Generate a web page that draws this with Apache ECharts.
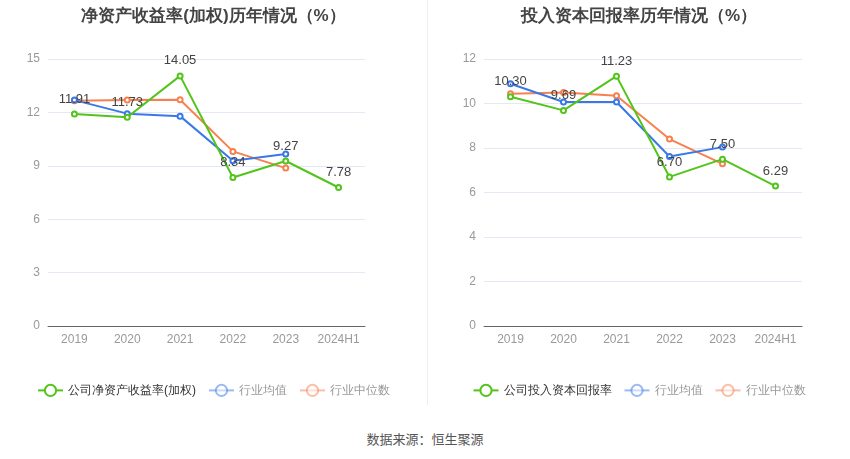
<!DOCTYPE html>
<html>
<head>
<meta charset="utf-8">
<script src="https://cdn.jsdelivr.net/npm/echarts@6/dist/echarts.min.js"></script>
<style>
  html, body { margin: 0; padding: 0; background: #fff; }
  #wrap { position: relative; width: 850px; height: 459px; font-family: "Noto Sans CJK SC", sans-serif; }
  #chartL { position: absolute; left: 0; top: 0; width: 427px; height: 410px; }
  #chartR { position: absolute; left: 428px; top: 0; width: 422px; height: 410px; }
  #divider { position: absolute; left: 427px; top: 0; width: 1px; height: 405px; background: #eeeeee; }
  #source { position: absolute; left: 0; top: 429px; width: 850px; text-align: center; font-size: 13px; color: #555; }
</style>
</head>
<body>
<div id="wrap">
  <div id="chartL"></div>
  <div id="divider"></div>
  <div id="chartR"></div>
  <div id="source">数据来源：恒生聚源</div>
</div>
<script>
var years = ['2019', '2020', '2021', '2022', '2023', '2024H1'];

// 净资产收益率(加权)
var roeCompany = [11.91, 11.73, 14.05, 8.34, 9.27, 7.78];
var roeAvg = [12.69, 11.93, 11.79, 9.28, 9.66];
var roeMedian = [12.66, 12.69, 12.71, 9.81, 8.87];

// 投入资本回报率
var roicCompany = [10.30, 9.69, 11.23, 6.70, 7.50, 6.29];
var roicAvg = [10.89, 10.07, 10.07, 7.62, 8.04];
var roicMedian = [10.44, 10.49, 10.35, 8.40, 7.29];

var green = '#52c41a';
var blue = '#3a78e8';
var orange = '#f7804f';

function makeOption(title, companyName, company, avg, median, max, step, grid) {
  var lineSeries = function (name, data, color, withLabel) {
    return {
      name: name,
      type: 'line',
      data: data,
      symbol: 'emptyCircle',
      symbolSize: 5,
      lineStyle: { width: 2, color: color },
      itemStyle: { color: color, borderWidth: 2 },
      z: withLabel ? 5 : 3,
      label: {
        show: withLabel,
        position: 'top',
        color: '#444',
        fontSize: 13,
        formatter: function (p) { return p.value.toFixed(2); }
      }
    };
  };
  return {
    title: {
      text: title,
      left: 'center',
      top: 3,
      textStyle: { fontSize: 17, fontWeight: 'bold', color: '#444' }
    },
    legend: {
      bottom: 8,
      left: 'center',
      itemWidth: 25,
      itemHeight: 14,
      itemGap: 12,
      textStyle: { fontSize: 12, color: '#333' },
      data: [
        { name: companyName },
        { name: '行业均值', textStyle: { color: '#999' }, itemStyle: { opacity: 0.5 }, lineStyle: { opacity: 0.5 } },
        { name: '行业中位数', textStyle: { color: '#999' }, itemStyle: { opacity: 0.5 }, lineStyle: { opacity: 0.5 } }
      ]
    },
    grid: grid,
    xAxis: {
      type: 'category',
      data: years,
      axisLine: { lineStyle: { color: '#666' } },
      axisTick: { alignWithLabel: true, lineStyle: { color: '#666' } },
      axisLabel: { color: '#999', fontSize: 12, margin: 8, interval: 0 }
    },
    yAxis: {
      type: 'value',
      min: 0,
      max: max,
      interval: step,
      axisLabel: { color: '#999', fontSize: 12, margin: 8 },
      splitLine: { lineStyle: { color: '#e3e8f4' } }
    },
    series: [
      lineSeries('行业中位数', median, orange, false),
      lineSeries('行业均值', avg, blue, false),
      lineSeries(companyName, company, green, true)
    ]
  };
}

var chartL = echarts.init(document.getElementById('chartL'));
chartL.setOption(makeOption('净资产收益率(加权)历年情况（%）', '公司净资产收益率(加权)',
  roeCompany, roeAvg, roeMedian, 15, 3,
  { left: 48, right: 62, top: 59, bottom: 84 }));

var chartR = echarts.init(document.getElementById('chartR'));
chartR.setOption(makeOption('投入资本回报率历年情况（%）', '公司投入资本回报率',
  roicCompany, roicAvg, roicMedian, 12, 2,
  { left: 56, right: 48, top: 59, bottom: 84 }));
</script>
</body>
</html>
